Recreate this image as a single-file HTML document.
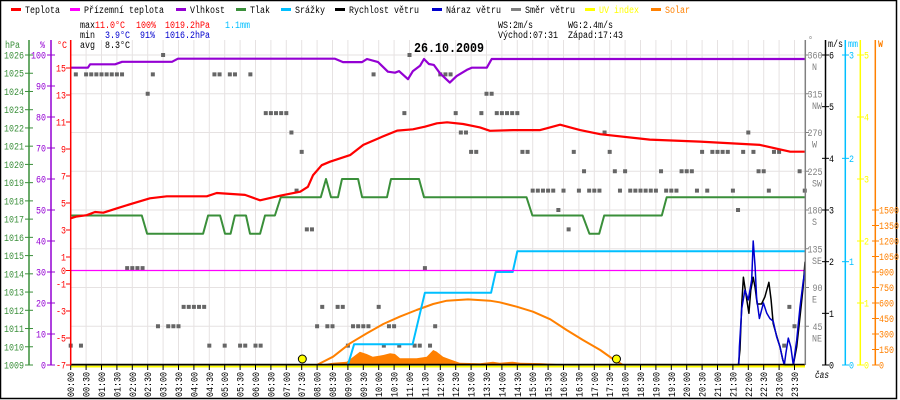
<!DOCTYPE html>
<html><head><meta charset="utf-8"><style>
html,body{margin:0;padding:0;background:#fff;}
svg{display:block;font-family:"Liberation Mono",monospace;}
</style></head><body>
<svg id="chart" width="900" height="400" viewBox="0 0 900 400" xmlns="http://www.w3.org/2000/svg"></svg>
<script>
// ---- data ----
const tempT=[0,0.19,0.52,0.79,1.06,1.49,2.03,2.57,3.12,3.93,4.42,4.74,5.66,6.15,6.8,7.45,7.7,7.87,8.15,8.42,8.74,9.07,9.5,10.04,10.6,11.11,11.5,11.89,12.22,12.74,13.29,13.61,14.37,15.24,15.89,16.54,17.19,18.8,20.43,22.38,23.36,23.84];
const tempV=[3.87,4.0,4.1,4.33,4.28,4.6,4.98,5.35,5.5,5.5,5.5,5.74,5.6,5.2,5.54,5.84,6.2,7.07,7.8,8.06,8.3,8.55,9.3,9.84,10.36,10.46,10.65,10.9,10.98,10.85,10.6,10.35,10.4,10.4,10.8,10.4,10.1,9.7,9.55,9.3,8.8,8.8];
const humT=[0,0.56,0.63,1.44,1.67,3.29,3.48,8.58,8.84,9.46,9.62,9.98,10.3,10.53,10.66,10.95,11.11,11.34,11.47,11.63,11.79,11.99,12.31,12.53,12.86,13.02,13.51,13.67,23.84];
const humV=[95.9,95.9,97,97,97.8,97.8,98.8,98.8,97.7,97.7,98.7,97.7,94.6,94.3,94.8,92.2,94.8,96.5,98.7,97.1,96.8,94.1,91.1,93.2,95.2,95.9,95.9,98.7,98.7];
const presT=[0,2.31,2.48,4.3,4.46,4.85,5.01,5.19,5.33,5.69,5.82,6.15,6.31,6.63,6.82,8.12,8.29,8.45,8.68,8.81,9.33,9.46,10.27,10.4,11.31,11.47,14.8,14.99,16.62,16.84,17.16,17.32,19.19,19.35,23.84];
const presV=[1017.2,1017.2,1016.2,1016.2,1017.2,1017.2,1016.2,1016.2,1017.2,1017.2,1016.2,1016.2,1017.2,1017.2,1018.2,1018.2,1019.2,1018.2,1018.2,1019.2,1019.2,1018.2,1018.2,1019.2,1019.2,1018.2,1018.2,1017.2,1017.2,1016.2,1016.2,1017.2,1017.2,1018.2,1018.2];
const rainT=[0,9.0,9.2,11.1,11.5,13.65,13.8,14.35,14.5,23.84];
const rainV=[0,0,0.2,0.2,0.7,0.7,0.9,0.9,1.1,1.1];
const clearT=[0,7.99,8.52,9.07,9.61,10.15,10.69,11.23,11.77,12.21,12.9,13.61,13.93,14.48,15.01,15.57,16.1,16.63,17.19,17.65,17.93,23.84];
const clearV=[0,0,80,210,306,397,468,532,590,622,635,622,607,564,516,442,339,242,145,48,0,0];
const solarT=[7.99,8.52,8.96,9.39,9.61,9.81,10.15,10.37,10.53,10.69,11.23,11.56,11.77,11.88,12.09,12.31,12.63,13.29,13.71,13.93,14.35,14.59,15.24,15.78,15.89];
const solarV=[0,22,32,129,106,80,97,113,106,65,65,80,145,130,80,55,22,16,32,22,32,22,18,10,0];
const windT=[0,21.68,21.73,21.79,21.84,21.89,21.95,22.02,22.08,22.16,22.22,22.29,22.43,22.54,22.67,22.74,22.81,22.94,23.03,23.12,23.19,23.46,23.57,23.68,23.78,23.84];
const windV=[0,0,0.3,1.2,1.7,1.5,1.26,1.0,1.45,1.7,1.5,1.18,1.18,1.32,1.6,1.26,0.8,0.52,0.35,0.1,0,0,0.35,0.93,1.5,2.0];
const gustT=[0,21.69,21.71,21.79,21.89,22.0,22.11,22.16,22.22,22.27,22.36,22.49,22.6,22.7,22.81,22.92,23.03,23.12,23.17,23.22,23.3,23.38,23.46,23.57,23.68,23.78,23.84];
const gustV=[0,0,0.35,1.1,1.45,1.26,1.65,2.4,1.9,1.3,0.9,1.2,1.0,0.9,0.85,0.55,0.35,0.1,0,0.23,0.52,0.35,0,0.48,1.12,1.6,1.84];
// wind direction every 10 minutes (degrees)
const dirV=[22.5,337.5,22.5,337.5,337.5,337.5,337.5,337.5,337.5,337.5,337.5,112.5,112.5,112.5,112.5,315,337.5,45,360,45,45,45,67.5,67.5,67.5,67.5,67.5,22.5,337.5,337.5,22.5,337.5,337.5,22.5,22.5,337.5,22.5,22.5,292.5,292.5,292.5,292.5,292.5,270,202.5,247.5,157.5,157.5,45,67.5,45,45,67.5,67.5,22.5,45,45,45,45,337.5,67.5,22.5,45,45,22.5,292.5,360,22.5,22.5,112.5,22.5,45,337.5,337.5,337.5,292.5,270,270,247.5,247.5,292.5,315,315,292.5,292.5,292.5,292.5,292.5,247.5,247.5,202.5,202.5,202.5,202.5,202.5,180,202.5,157.5,247.5,202.5,225,202.5,202.5,202.5,270,247.5,225,202.5,225,202.5,202.5,202.5,202.5,202.5,202.5,225,202.5,202.5,202.5,225,225,225,202.5,247.5,202.5,247.5,247.5,247.5,247.5,202.5,180,247.5,270,247.5,225,225,202.5,247.5,247.5,22.5,67.5,45,225,202.5];
const sunTimes=[7.52,17.72];
const xTickLabels=[];for(let h=0;h<24;h++){const hh=String(h).padStart(2,'0');xTickLabels.push(hh+':00',hh+':30');}
const tempTicks=[15,13,11,9,7,5,3,1,0,-1,-3,-5,-7];
const humTicks=[100,90,80,70,60,50,40,30,20,10,0];
const presTicks=[1026,1025,1024,1023,1022,1021,1020,1019,1018,1017,1016,1015,1014,1013,1012,1011,1010,1009];
const dirTicks=[360,315,270,225,180,135,90,45];
const dirNames=['N','NW','W','SW','S','SE','E','NE'];
const windTicks=[0,1,2,3,4,5,6];
const rainTicks=[0,1,2,3];
const uvTicks=[0,1,2,3,4,5];
const solarTicks=[0,150,300,450,600,750,900,1050,1200,1350,1500];

// ---- scales ----
const X=t=>70.7+30.8*t;
const YT=v=>270.5-13.5*v;
const YH=v=>365-3.1*v;
const YP=v=>365-18.235*(v-1009);
const YD=v=>365-v*310/360;
const YW=v=>365-51.667*v;
const YR=v=>365-103.33*v;
const YU=v=>365-62*v;
const YS=v=>365-0.10333*v;

const svg=document.getElementById('chart');
const NS='http://www.w3.org/2000/svg';
function el(tag,attrs,parent){const e=document.createElementNS(NS,tag);for(const k in attrs)e.setAttribute(k,attrs[k]);(parent||svg).appendChild(e);return e;}
function txt(x,y,s,fill,anchor,name,extra){
  const e=el('text',Object.assign({x:x,y:y,fill:fill,'font-size':10,'text-anchor':anchor||'start',textLength:s.length*5,lengthAdjust:'spacingAndGlyphs'},extra||{}));
  e.textContent=s;
  
  
  return e;
}
function line(x1,y1,x2,y2,stroke,w,name){const e=el('line',{x1:x1,y1:y1,x2:x2,y2:y2,stroke:stroke,'stroke-width':w});
  
  
  return e;}
function poly(ts,vs,xf,yf,stroke,w,name){
  const pts=ts.map((t,i)=>xf(t).toFixed(1)+','+yf(vs[i]).toFixed(1)).join(' ');
  const e=el('polyline',{points:pts,fill:'none',stroke:stroke,'stroke-width':w,'stroke-linejoin':'round'});
  
  
  return e;
}

// frame
const fr=el('rect',{x:0.5,y:0.5,width:896,height:398,fill:'none',stroke:'#000','stroke-width':1.5});



// grid
for(let i=0;i<48;i++){line(X(i*0.5),40,X(i*0.5),365,'#e6e2e2',1,'grid-vertical');}
for(let k=0;k<8;k++){line(70.7,55+38.75*k,805,55+38.75*k,'#e6e2e2',1,'grid-horizontal');}

// direction dots
dirV.forEach((d,i)=>{
  const r=el('rect',{x:X(i/6)-2,y:YD(d)-2,width:4,height:4,fill:'#666'});
  
  
});

// solar fill
{
  let pts=solarT.map((t,i)=>X(t).toFixed(1)+','+YS(solarV[i]).toFixed(1)).join(' ');
  const p=el('polygon',{points:X(solarT[0])+',365 '+pts+' '+X(solarT[solarT.length-1])+',365',fill:'#ff8000'});
  
  
}
poly(clearT,clearV,X,YS,'#ff8000',2,'solar-clear-line');
poly(rainT,rainV,X,YR,'#00bfff',2,'rain-line');
poly(presT,presV,X,YP,'#3a8f3a',2,'pressure-line');
line(70.7,270.5,805,270.5,'#ff00ff',1.3,'ground-temp-line');
poly(tempT,tempV,X,YT,'#ff0000',2.2,'temperature-line');
poly(humT,humV,X,YH,'#9400d3',2.2,'humidity-line');
poly(windT,windV,X,YW,'#000',1.5,'wind-speed-line');
poly(gustT,gustV,X,YW,'#0000cd',1.5,'wind-gust-line');
line(70.7,366.5,805,366.5,'#ffff00',2,'uv-line');
line(70.7,364.5,805,364.5,'#000',1.5,'x-axis-line');
sunTimes.forEach((t,i)=>{
  const c=el('circle',{cx:X(t),cy:359,r:4,fill:'#ffff00',stroke:'#000','stroke-width':1});
  
  
});

// x axis ticks & labels
xTickLabels.forEach((s,i)=>{
  const x=X(i*0.5);
  line(x,365,x,370,'#000',1,'x-tick');
  txt(x+3.5,372,s,'#000','end','x-tick-label',{transform:'rotate(-90 '+(x+3.5)+' 372)'});
});
const cas=txt(815,378,'čas','#000','start','x-axis-title',{'font-style':'italic',textLength:14});

// left axes
line(29,40,29,365,'#3a8f3a',1.5,'pressure-axis');
line(51,40,51,365,'#9400d3',1.5,'humidity-axis');
line(70.7,40,70.7,365,'#ff0000',1.5,'temperature-axis');
txt(5,48,'hPa','#3a8f3a','start','pressure-axis-title');
txt(40,48,'%','#9400d3','start','humidity-axis-title');
txt(57,48,'°C','#ff0000','start','temperature-axis-title');
presTicks.forEach(v=>{const y=YP(v);line(25,y,33,y,'#3a8f3a',1,'pressure-tick');txt(24,y+3.5,String(v),'#3a8f3a','end','pressure-tick-label');});
humTicks.forEach(v=>{const y=YH(v);line(47,y,55,y,'#9400d3',1,'humidity-tick');txt(46,y+3.5,String(v),'#9400d3','end','humidity-tick-label');});
tempTicks.forEach(v=>{const y=YT(v);line(66,y,71,y,'#ff0000',1,'temperature-tick');txt(66,y+3.5,String(v),'#ff0000','end','temperature-tick-label');});

// right axes
line(805.3,40,805.3,365,'#808080',1.5,'direction-axis');
line(825.5,40,825.5,365,'#000',1.5,'wind-axis');
line(845.3,40,845.3,365,'#00bfff',1.5,'rain-axis');
line(860.3,40,860.3,365,'#ffff00',1.5,'uv-axis');
line(875.3,40,875.3,365,'#ff8000',1.5,'solar-axis');
txt(808,43,'°','#808080','start','direction-axis-title',{textLength:5});
txt(828,47,'m/s','#000','start','wind-axis-title');
txt(848,47,'mm','#00bfff','start','rain-axis-title');
txt(878,47,'W','#ff8000','start','solar-axis-title',{'font-weight':'bold'});
dirTicks.forEach((v,i)=>{const y=YD(v);line(805,y,809,y,'#808080',1,'direction-tick');
  txt(v>=100?807.5:812.5,y+3.5,String(v),'#808080','start','direction-tick-label');
  txt(812,y+15,dirNames[i],'#808080','start','direction-name-label');});
windTicks.forEach(v=>{const y=YW(v);line(822,y,829,y,'#000',1,'wind-tick');txt(829,y+3.5,String(v),'#000','start','wind-tick-label');});
rainTicks.forEach(v=>{const y=YR(v);line(842,y,849,y,'#00bfff',1,'rain-tick');txt(849,y+3.5,String(v),'#00bfff','start','rain-tick-label');});
uvTicks.forEach(v=>{const y=YU(v);line(857,y,864,y,'#ffff00',1,'uv-tick');txt(864,y+3.5,String(v),'#ffff00','start','uv-tick-label');});
solarTicks.forEach(v=>{const y=YS(v);line(872,y,879,y,'#ff8000',1,'solar-tick');txt(879,y+3.5,String(v),'#ff8000','start','solar-tick-label');});

// legend
const legend=[['Teplota','#ff0000',25],['Přízemní teplota','#ff00ff',84],['Vlhkost','#9400d3',190],['Tlak','#3a8f3a',250],['Srážky','#00bfff',295],['Rychlost větru','#000',349],['Náraz větru','#0000cd',446],['Směr větru','#808080',525],['UV index','#ffff00',599],['Solar','#ff8000',665]];
legend.forEach(([s,c,x])=>{
  line(x-14,9.5,x-4,9.5,c,3,'legend-swatch');
  txt(x,13,s,(c==='#ffff00'||c==='#ff8000')?c:'#000','start','legend-entry');
});

// stats
txt(80,28,'max','#000','start','stats-max-label');
txt(95,28,'11.0°C','#ff0000','start','stats-max-temp');
txt(136,28,'100%','#ff0000','start','stats-max-humidity');
txt(165,28,'1019.2hPa','#ff0000','start','stats-max-pressure');
txt(225,28,'1.1mm','#00bfff','start','stats-rain');
txt(80,38,'min','#000','start','stats-min-label');
txt(105,38,'3.9°C','#0000cd','start','stats-min-temp');
txt(140,38,'91%','#0000cd','start','stats-min-humidity');
txt(165,38,'1016.2hPa','#0000cd','start','stats-min-pressure');
txt(80,48,'avg','#000','start','stats-avg-label');
txt(105,48,'8.3°C','#000','start','stats-avg-temp');
txt(498,28,'WS:2m/s','#000','start','stats-wind-speed');
txt(568,28,'WG:2.4m/s','#000','start','stats-wind-gust');
txt(498,38,'Východ:07:31','#000','start','stats-sunrise');
txt(568,38,'Západ:17:43','#000','start','stats-sunset');
const title=el('text',{x:414,y:52,'font-size':14,'font-weight':'bold',fill:'#000',textLength:70,lengthAdjust:'spacingAndGlyphs'});
title.textContent='26.10.2009';


</script>
</body></html>
